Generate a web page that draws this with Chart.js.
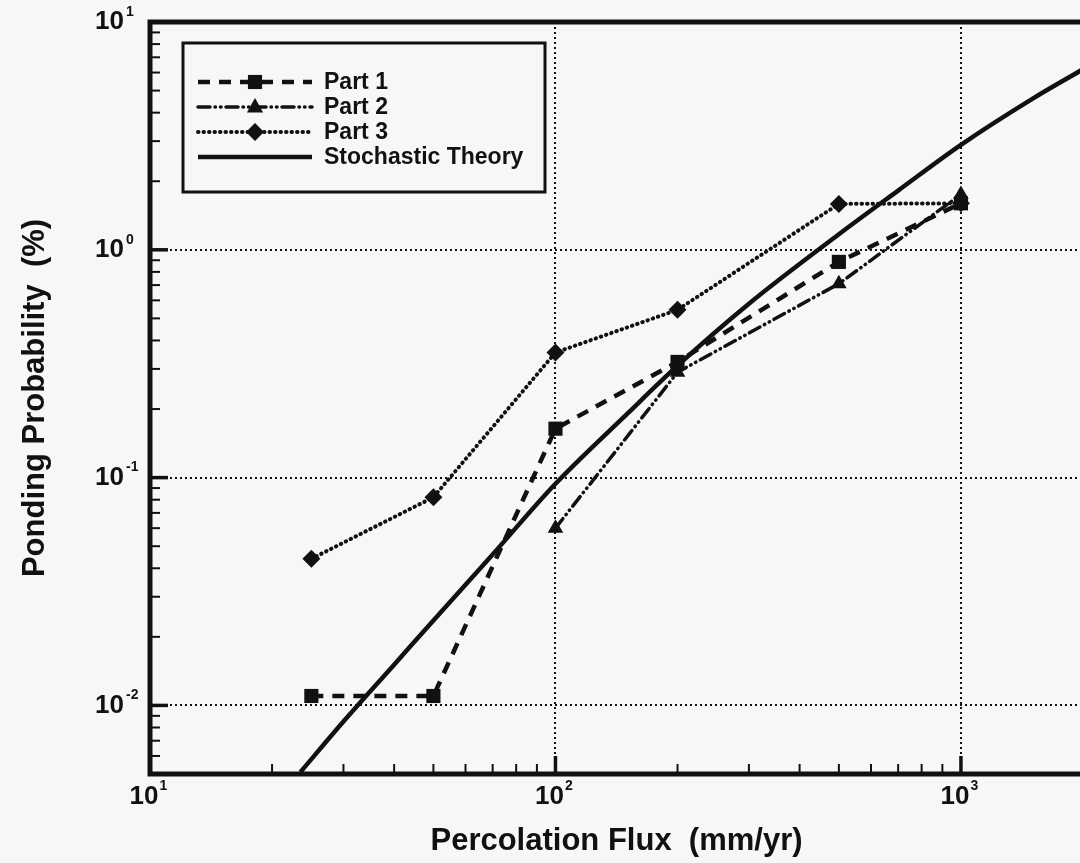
<!DOCTYPE html>
<html>
<head>
<meta charset="utf-8">
<script src="https://cdn.jsdelivr.net/npm/chart.js@4.4.0/dist/chart.umd.min.js"></script>
<style>
  html, body { margin: 0; padding: 0; background: #f6f8f7; overflow: hidden; }
  #wrap { position: relative; width: 1100px; height: 863px; }
</style>
</head>
<body>
<div id="wrap"><canvas id="pondingChart" width="1100" height="863"></canvas></div>
<script>
// Measured points (percolation flux in mm/yr, ponding probability in %)
const fluxPoints = [25, 50, 100, 200, 500, 1000];
const part1Values = [0.011, 0.011, 0.164, 0.322, 0.885, 1.6];
const part2Flux = [100, 200, 500, 1000];
const part2Values = [0.060, 0.29, 0.71, 1.75];
const part3Values = [0.044, 0.082, 0.354, 0.545, 1.59, 1.6];

// Stochastic theory curve
const theoryFlux = [23.5, 30, 40, 50, 70, 100, 150, 200, 300, 500, 700, 1000, 1500, 2000];
const theoryValues = [0.0051, 0.0085, 0.0151, 0.0236, 0.046, 0.094, 0.19, 0.31, 0.58, 1.17, 1.82, 2.89, 4.6, 6.2];

// Axes: decade ticks labelled as 10 with a small exponent
const xMajorTicks = [10, 100, 1000];
const xTickExponents = ['1', '2', '3'];
const yMajorTicks = [0.01, 0.1, 1, 10];
const yTickExponents = ['-2', '-1', '0', '1'];
const minorSteps = [2, 3, 4, 5, 6, 7, 8, 9];

const INK = '#111111';
const BG = '#f6f8f7';
const FONT = '"Liberation Sans", Arial, "DejaVu Sans", sans-serif';
const TICK_SIZE = 26;
const X_LABEL_SHIFT = -6;
const Y_LABEL_PAD = 26;

function toPoints(xs, ys) {
    return xs.map((x, i) => ({ x: x, y: ys[i] }));
}

function minorValues(majors, max) {
    const out = [];
    majors.forEach(m => minorSteps.forEach(s => { if (m * s < max) out.push(m * s); }));
    return out;
}

function drawMarker(ctx, style, x, y, r) {
    ctx.beginPath();
    if (style === 'rect') {
        const s = r * Math.SQRT1_2;
        ctx.rect(x - s, y - s, 2 * s, 2 * s);
    } else if (style === 'triangle') {
        ctx.moveTo(x, y - r);
        ctx.lineTo(x + r * 0.9, y + r * 0.6);
        ctx.lineTo(x - r * 0.9, y + r * 0.6);
        ctx.closePath();
    } else if (style === 'rectRot') {
        ctx.moveTo(x, y - r);
        ctx.lineTo(x + r, y);
        ctx.lineTo(x, y + r);
        ctx.lineTo(x - r, y);
        ctx.closePath();
    }
    ctx.fill();
}

// Frame plus inward tick marks on the left and bottom axes
const frameTicks = {
    id: 'frameTicks',
    afterDatasetsDraw(chart) {
        const { ctx, chartArea: a, scales } = chart;
        ctx.save();
        ctx.strokeStyle = INK;
        ctx.lineCap = 'butt';
        ctx.setLineDash([]);

        ctx.lineWidth = 2;
        minorValues(xMajorTicks, 2000).forEach(v => {
            const px = scales.x.getPixelForValue(v);
            ctx.beginPath(); ctx.moveTo(px, a.bottom); ctx.lineTo(px, a.bottom - 10); ctx.stroke();
        });
        minorValues([0.001, 0.01, 0.1, 1], 10).forEach(v => {
            if (v < 0.005) return;
            const py = scales.y.getPixelForValue(v);
            ctx.beginPath(); ctx.moveTo(a.left, py); ctx.lineTo(a.left + 10, py); ctx.stroke();
        });
        ctx.lineWidth = 3.5;
        xMajorTicks.forEach(v => {
            const px = scales.x.getPixelForValue(v);
            ctx.beginPath(); ctx.moveTo(px, a.bottom); ctx.lineTo(px, a.bottom - 18); ctx.stroke();
        });
        yMajorTicks.forEach(v => {
            const py = scales.y.getPixelForValue(v);
            ctx.beginPath(); ctx.moveTo(a.left, py); ctx.lineTo(a.left + 18, py); ctx.stroke();
        });

        ctx.lineWidth = 5;
        ctx.strokeRect(a.left, a.top, a.right - a.left, a.bottom - a.top);
        ctx.restore();
    }
};

// Small raised exponents next to the "10" tick labels
const tickExponents = {
    id: 'tickExponents',
    afterDraw(chart) {
        const { ctx, chartArea: a, scales } = chart;
        ctx.save();
        ctx.font = 'bold ' + TICK_SIZE + 'px ' + FONT;
        const baseW = ctx.measureText('10').width;
        ctx.fillStyle = INK;
        ctx.font = 'bold 14px ' + FONT;
        ctx.textAlign = 'left';
        ctx.textBaseline = 'top';
        xMajorTicks.forEach((v, i) => {
            const px = scales.x.getPixelForValue(v) + X_LABEL_SHIFT;
            ctx.fillText(xTickExponents[i], px + baseW / 2 + 1, a.bottom + 5);
        });
        yMajorTicks.forEach((v, i) => {
            const py = scales.y.getPixelForValue(v);
            ctx.fillText(yTickExponents[i], a.left - Y_LABEL_PAD + 2, py - 17);
        });
        ctx.restore();
    }
};

// Boxed legend in the upper left of the plot
const legendBox = {
    id: 'legendBox',
    afterDraw(chart) {
        const { ctx, chartArea: a } = chart;
        const left = a.left + 33, top = a.top + 21, width = 362, height = 149;
        ctx.save();
        ctx.fillStyle = BG;
        ctx.fillRect(left, top, width, height);
        ctx.strokeStyle = INK;
        ctx.lineWidth = 3;
        ctx.setLineDash([]);
        ctx.strokeRect(left, top, width, height);

        chart.data.datasets.forEach((ds, i) => {
            const y = top + 39 + i * 25;
            const x0 = left + 15, x1 = left + 129, xm = (x0 + x1) / 2;
            ctx.strokeStyle = ds.borderColor;
            ctx.lineWidth = ds.borderWidth;
            ctx.lineCap = ds.borderCapStyle || 'butt';
            ctx.setLineDash(ds.borderDash || []);
            ctx.beginPath(); ctx.moveTo(x0, y); ctx.lineTo(x1, y); ctx.stroke();
            if (ds.pointRadius) {
                ctx.fillStyle = ds.pointBackgroundColor;
                drawMarker(ctx, ds.pointStyle, xm, y, ds.pointRadius);
            }
            ctx.fillStyle = INK;
            ctx.font = 'bold 23px ' + FONT;
            ctx.textBaseline = 'middle';
            ctx.textAlign = 'left';
            ctx.fillText(ds.label, left + 141, y + 1);
        });
        ctx.restore();
    }
};

function buildDataset(label, points, opts) {
    return Object.assign({
        label: label,
        data: points,
        showLine: true,
        borderColor: INK,
        pointBackgroundColor: INK,
        pointBorderColor: INK,
        pointBorderWidth: 0,
        fill: false,
        tension: 0
    }, opts);
}

new Chart(document.getElementById('pondingChart'), {
    type: 'scatter',
    data: {
        datasets: [
            buildDataset('Part 1', toPoints(fluxPoints, part1Values), {
                borderWidth: 4.5, borderDash: [12, 9], pointStyle: 'rect', pointRadius: 10
            }),
            buildDataset('Part 2', toPoints(part2Flux, part2Values), {
                borderWidth: 3.5, borderDash: [12, 5, 0.5, 5, 0.5, 5], borderCapStyle: 'round',
                pointStyle: 'triangle', pointRadius: 9
            }),
            buildDataset('Part 3', toPoints(fluxPoints, part3Values), {
                borderWidth: 4, borderDash: [0.5, 5], borderCapStyle: 'round',
                pointStyle: 'rectRot', pointRadius: 9
            }),
            buildDataset('Stochastic Theory', toPoints(theoryFlux, theoryValues), {
                borderWidth: 4.5, pointRadius: 0, cubicInterpolationMode: 'monotone'
            })
        ]
    },
    options: {
        responsive: false,
        animation: false,
        layout: { padding: { top: 22, right: 17, left: 0, bottom: 0 } },
        plugins: {
            legend: { display: false },
            tooltip: { enabled: false }
        },
        scales: {
            x: {
                type: 'logarithmic',
                min: 10,
                max: 2000,
                afterBuildTicks: scale => { scale.ticks = xMajorTicks.map(v => ({ value: v })); },
                afterFit: scale => {
                    scale.height = 89;
                    scale.paddingLeft = 0;
                    scale.paddingRight = 0;
                },
                grid: {
                    drawTicks: false,
                    lineWidth: 2,
                    color: ctx => (ctx.tick && ctx.tick.value > 10) ? INK : 'transparent'
                },
                border: { display: false, dash: [2, 3] },
                ticks: {
                    autoSkip: false,
                    maxRotation: 0,
                    padding: 7,
                    labelOffset: X_LABEL_SHIFT,
                    color: INK,
                    font: { family: FONT, size: TICK_SIZE, weight: 'bold' },
                    callback: () => '10'
                },
                title: {
                    display: true,
                    text: 'Percolation Flux  (mm/yr)',
                    color: INK,
                    font: { family: FONT, size: 31, weight: 'bold' },
                    padding: { top: 0, bottom: 3 }
                }
            },
            y: {
                type: 'logarithmic',
                min: 0.005,
                max: 10,
                afterBuildTicks: scale => { scale.ticks = yMajorTicks.map(v => ({ value: v })); },
                afterFit: scale => {
                    scale.width = 150;
                    scale.paddingTop = 0;
                    scale.paddingBottom = 0;
                },
                grid: {
                    drawTicks: false,
                    lineWidth: 2,
                    color: ctx => (ctx.tick && ctx.tick.value < 10) ? INK : 'transparent'
                },
                border: { display: false, dash: [2, 3] },
                ticks: {
                    autoSkip: false,
                    padding: Y_LABEL_PAD,
                    color: INK,
                    font: { family: FONT, size: TICK_SIZE, weight: 'bold' },
                    callback: () => '10'
                },
                title: {
                    display: true,
                    text: 'Ponding Probability  (%)',
                    color: INK,
                    font: { family: FONT, size: 31, weight: 'bold' },
                    padding: { top: 17, bottom: 0 }
                }
            }
        }
    },
    plugins: [frameTicks, tickExponents, legendBox]
});
</script>
</body>
</html>
